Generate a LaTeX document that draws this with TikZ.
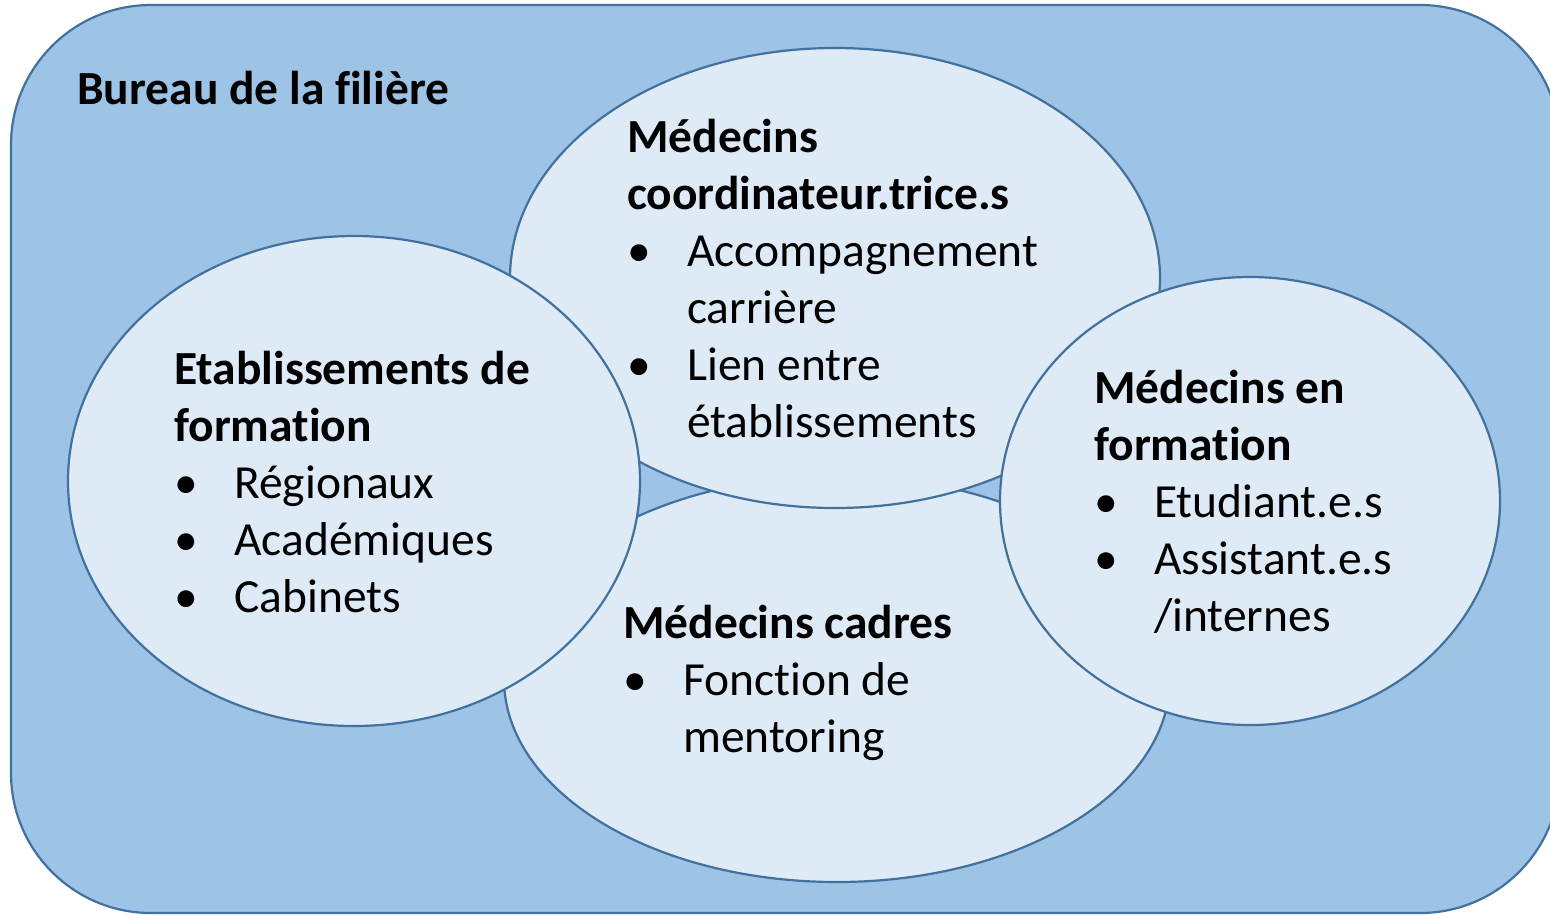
\documentclass[tikz,border=0pt]{standalone}
\usepackage{fontspec}
\setmainfont{Carlito}[Ligatures=NoCommon]

\definecolor{bureau}{HTML}{9DC3E6}
\definecolor{cercle}{HTML}{DEEBF7}
\definecolor{trait}{HTML}{41719C}

\newcommand{\titre}[1]{\hbox{\bfseries #1}}
\newcommand{\puce}[1]{\hbox{\makebox[60pt][l]{\textbullet}#1}}
\newcommand{\suite}[1]{\hbox{\hspace*{60pt}#1}}

\tikzset{
    groupe/.style={fill=cercle, draw=trait, line width=2.2pt},
    texte/.style={anchor=base west, inner sep=0pt, font=\fontsize{47.5}{57}\selectfont},
}

\begin{document}
\begin{tikzpicture}[x=1pt, y=-1pt]
    \useasboundingbox (0,0) rectangle (1550,914);

    \draw[fill=bureau, draw=trait, line width=2.2pt, rounded corners=140pt] (11,5) rectangle (1560,913);
    \node[texte] (bureau) at (77,104) {\bfseries Bureau de la filière};

    % bottom, top, left, right
    \draw[groupe] (837,679) ellipse [x radius=333, y radius=203];
    \draw[groupe] (835,278) ellipse [x radius=325, y radius=230];
    \draw[groupe] (354,481) ellipse [x radius=286, y radius=245];
    \draw[groupe] (1250,501) ellipse [x radius=250, y radius=224];

    \node[texte] (coord) at (627,152) {\vtop{\titre{Médecins}\titre{coordinateur.trice.s}\puce{Accompagnement}\suite{carrière}\puce{Lien entre}\suite{établissements}}};
    \node[texte] (etab) at (174,384) {\vtop{\titre{Etablissements de}\titre{formation}\puce{Régionaux}\puce{Académiques}\puce{Cabinets}}};
    \node[texte] (enform) at (1094,403) {\vtop{\titre{Médecins en}\titre{formation}\puce{Etudiant.e.s}\puce{Assistant.e.s}\suite{/internes}}};
    \node[texte] (cadres) at (623,638) {\vtop{\titre{Médecins cadres}\puce{Fonction de}\suite{mentoring}}};

\end{tikzpicture}
\end{document}
